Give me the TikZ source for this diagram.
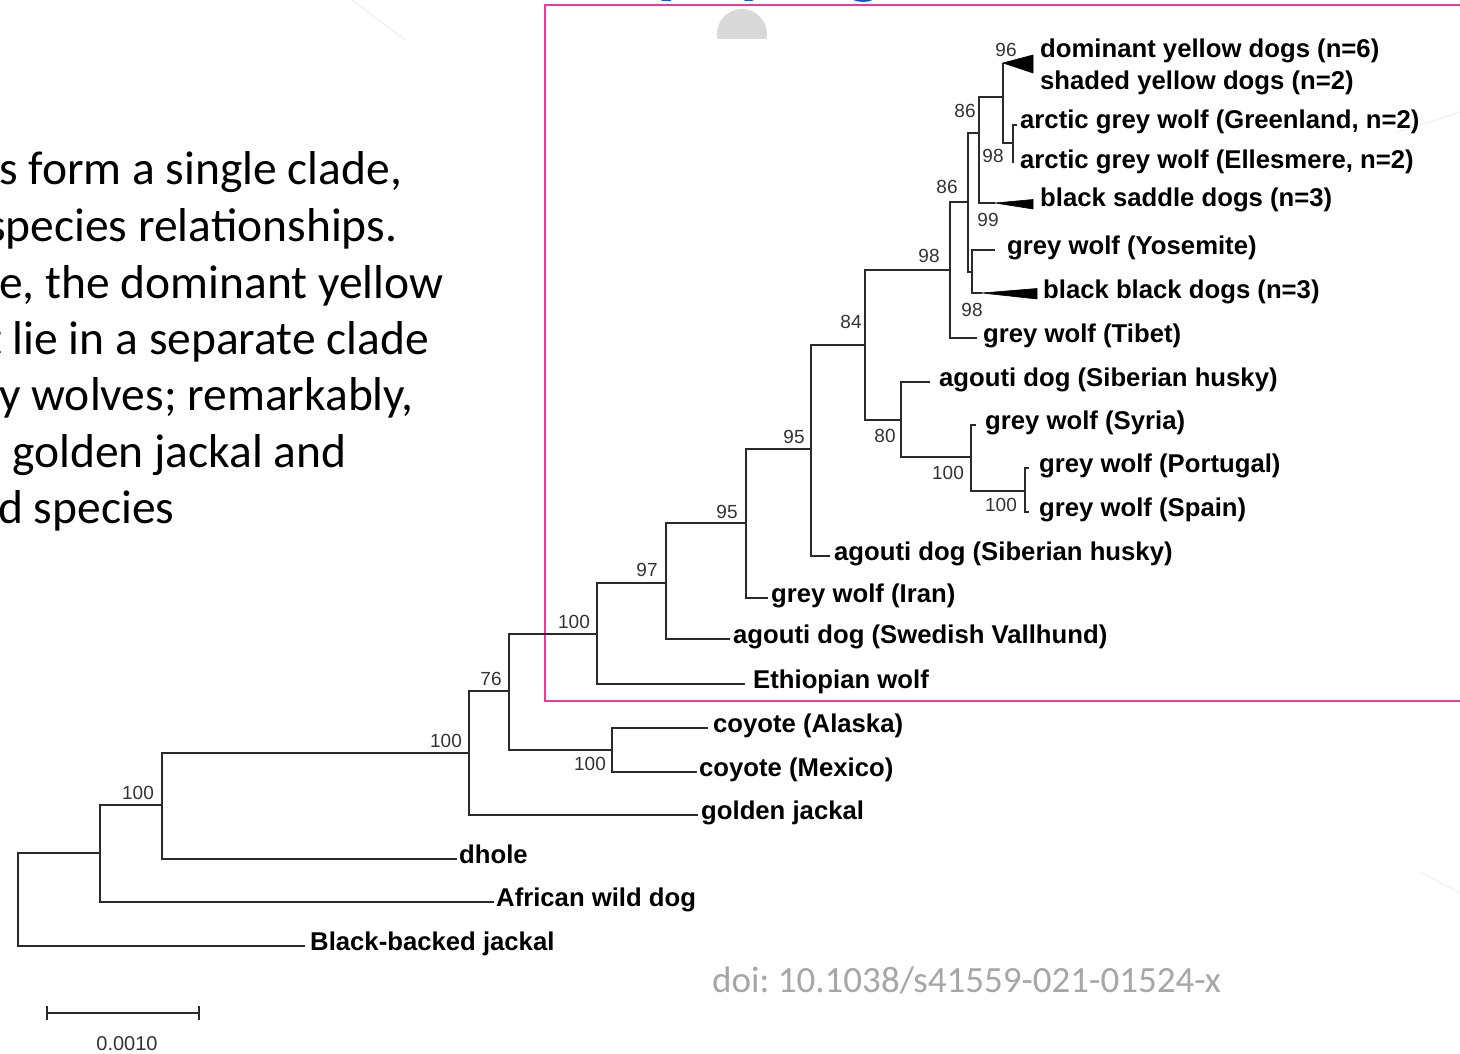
\documentclass[tikz,border=0pt]{standalone}
\usepackage{fontspec}
\setmainfont{Liberation Sans}
\newfontfamily\slidefam{Carlito}
\frenchspacing
\definecolor{treecol}{HTML}{2A2A2A}
\definecolor{bscol}{HTML}{333333}
\definecolor{boxpink}{RGB}{233,60,152}
\definecolor{titleblue}{RGB}{25,80,180}
\definecolor{doigray}{HTML}{A6A6A6}
\definecolor{circgray}{HTML}{D9D9D9}
\definecolor{faint}{HTML}{EDEDED}
\newcommand\leaffont{\bfseries\fontsize{25.7}{30}\selectfont}
\newcommand\bsfont{\fontsize{19}{22}\selectfont}
\newcommand\slidetext{\slidefam\fontsize{47.5}{57}\selectfont}
\newcommand\titlefont{\slidefam\bfseries\fontsize{76}{80}\selectfont}
\tikzset{
  br/.style={line width=1.8pt, draw=treecol, line join=miter},
  leaf/.style={anchor=base west, inner sep=0pt, font=\leaffont, text=black},
  bs/.style={inner sep=0pt, font=\bsfont, text=bscol},
  wedge/.style={fill=black, draw=black, line width=0.6pt, line join=miter},
  slide/.style={anchor=base west, inner sep=0pt, font=\slidetext, text=black},
  titlefrag/.style={anchor=base west, inner sep=0pt, text=titleblue, font=\titlefont},
}
\begin{document}
\begin{tikzpicture}[x=1pt,y=-1pt]
\useasboundingbox (0,0) rectangle (1460,1054);
\clip (0,0) rectangle (1460,1054);
\fill[white] (0,0) rectangle (1460,1054);

% faint decorative lines
\draw[faint, line width=0.8pt] (352,0) -- (405,40);
\draw[faint, line width=0.8pt] (1395,133) -- (1460,112);
\draw[faint, line width=0.8pt] (1420,872) -- (1460,893);

% title fragments (clipped at the top edge)
\node[titlefrag] (tp) at (657,-10) {p};
\node[titlefrag] (ty) at (737,-10) {y};
\node[titlefrag] (tg) at (846,-10) {g};

% grey half disc
\begin{scope}
  \clip (700,0) rectangle (790,39);
  \fill[circgray] (742,34) circle (25pt);
\end{scope}

% slide text (left, clipped)
\node[slide] (s1) at (-1,185) {s form a single clade,};
\node[slide] (s2) at (-13,241) {species relationships.};
\node[slide] (s3) at (-1,298) {e, the dominant yellow};
\node[slide] (s4) at (-14,354) {t lie in a separate clade};
\node[slide] (s5) at (-1,410) {y wolves; remarkably,};
\node[slide] (s6) at (12,467) {golden jackal and};
\node[slide] (s7) at (-2,523) {d species};

% pink frame
\draw[boxpink, line width=2.8pt] (545,5) rectangle (1470,701);

% ---- tree: internal nodes (x, stem y)
\coordinate (root) at (18,900);
\coordinate (nS) at (100,853);
\coordinate (nR) at (162,805);
\coordinate (nQ) at (469,753);
\coordinate (nO) at (509,691);
\coordinate (nP) at (612,750);
\coordinate (nN) at (597,634);
\coordinate (nM) at (666,583);
\coordinate (nL) at (746,523);
\coordinate (nK) at (811,449);
\coordinate (nG) at (865,345);
\coordinate (nH) at (901,420);
\coordinate (nI) at (971,457);
\coordinate (nJ) at (1025,491);
\coordinate (nF) at (950,270);
\coordinate (nD) at (968,202);
\coordinate (nE) at (972,272);
\coordinate (nC) at (979,133);
\coordinate (nA) at (1003,97);
\coordinate (nB) at (1013,143);
% tips
\coordinate (tDom) at (1003,63);
\coordinate (tGr) at (1017,125);
\coordinate (tEl) at (1013,163);
\coordinate (tSad) at (995,203);
\coordinate (tYo) at (995,250);
\coordinate (tBl) at (982,293);
\coordinate (tTi) at (977,338);
\coordinate (tAg1) at (930,382);
\coordinate (tSy) at (976,425);
\coordinate (tPo) at (1029,468);
\coordinate (tSp) at (1029,512);
\coordinate (tAg2) at (830,556);
\coordinate (tIr) at (768,598);
\coordinate (tSw) at (730,639);
\coordinate (tEt) at (745,684);
\coordinate (tAl) at (708,728);
\coordinate (tMe) at (697,772);
\coordinate (tGo) at (698,815);
\coordinate (tDh) at (457,859);
\coordinate (tAf) at (494,902);
\coordinate (tBB) at (305,946);

% branches (parent |- child)
\draw[br] (root) |- (nS);  \draw[br] (root) |- (tBB);
\draw[br] (nS) |- (nR);    \draw[br] (nS) |- (tAf);
\draw[br] (nR) |- (nQ);    \draw[br] (nR) |- (tDh);
\draw[br] (nQ) |- (nO);    \draw[br] (nQ) |- (tGo);
\draw[br] (nO) |- (nN);    \draw[br] (nO) |- (nP);
\draw[br] (nP) |- (tAl);   \draw[br] (nP) |- (tMe);
\draw[br] (nN) |- (nM);    \draw[br] (nN) |- (tEt);
\draw[br] (nM) |- (nL);    \draw[br] (nM) |- (tSw);
\draw[br] (nL) |- (nK);    \draw[br] (nL) |- (tIr);
\draw[br] (nK) |- (nG);    \draw[br] (nK) |- (tAg2);
\draw[br] (nG) |- (nF);    \draw[br] (nG) |- (nH);
\draw[br] (nH) |- (tAg1);  \draw[br] (nH) |- (nI);
\draw[br] (nI) |- (tSy);   \draw[br] (nI) |- (nJ);
\draw[br] (nJ) |- (tPo);   \draw[br] (nJ) |- (tSp);
\draw[br] (nF) |- (nD);    \draw[br] (nF) |- (tTi);
\draw[br] (nD) |- (nC);    \draw[br] (nD) |- (nE);
\draw[br] (nE) |- (tYo);   \draw[br] (nE) |- (tBl);
\draw[br] (nC) |- (nA);    \draw[br] (nC) |- (tSad);
\draw[br] (nA) |- (tDom);  \draw[br] (nA) |- (nB);
\draw[br] (nB) |- (tGr);   \draw[br] (nB) |- (tEl);

% collapsed clades (wedges)
\fill[wedge] (tDom) -- (1033,55) -- (1033,73) -- cycle;
\fill[wedge] (tSad) -- (1033,199.5) -- (1033,209) -- cycle;
\fill[wedge] (tBl) -- (1037,288.5) -- (1037,299) -- cycle;

% leaf labels
\node[leaf] (lDom) at (1040,58) {dominant yellow dogs (n=6)};
\node[leaf] (lSha) at (1040,90) {shaded yellow dogs (n=2)};
\node[leaf] (lGr) at (1020,129) {arctic grey wolf (Greenland, n=2)};
\node[leaf] (lEl) at (1020,169) {arctic grey wolf (Ellesmere, n=2)};
\node[leaf] (lSad) at (1040,207) {black saddle dogs (n=3)};
\node[leaf] (lYo) at (1007,254) {grey wolf (Yosemite)};
\node[leaf] (lBl) at (1043,298) {black black dogs (n=3)};
\node[leaf] (lTi) at (983,342) {grey wolf (Tibet)};
\node[leaf] (lAg1) at (939,386) {agouti dog (Siberian husky)};
\node[leaf] (lSy) at (985,429) {grey wolf (Syria)};
\node[leaf] (lPo) at (1039,472) {grey wolf (Portugal)};
\node[leaf] (lSp) at (1039,516) {grey wolf (Spain)};
\node[leaf] (lAg2) at (834,560) {agouti dog (Siberian husky)};
\node[leaf] (lIr) at (771,602) {grey wolf (Iran)};
\node[leaf] (lSw) at (733,643) {agouti dog (Swedish Vallhund)};
\node[leaf] (lEt) at (753,688) {Ethiopian wolf};
\node[leaf] (lAl) at (713,732) {coyote (Alaska)};
\node[leaf] (lMe) at (699,776) {coyote (Mexico)};
\node[leaf] (lGo) at (701,819) {golden jackal};
\node[leaf] (lDh) at (459,863) {dhole};
\node[leaf] (lAf) at (496,906) {African wild dog};
\node[leaf] (lBB) at (310,950) {Black-backed jackal};

% bootstrap values
\node[bs] (b96) at (1006,50) {96};
\node[bs] (b86a) at (965,111) {86};
\node[bs] (b98a) at (993,156) {98};
\node[bs] (b86b) at (947,187) {86};
\node[bs] (b99) at (988,220) {99};
\node[bs] (b98b) at (929,256) {98};
\node[bs] (b98c) at (972,310) {98};
\node[bs] (b84) at (851,322) {84};
\node[bs] (b80) at (885,436) {80};
\node[bs] (b100a) at (948,473) {100};
\node[bs] (b100b) at (1001,505) {100};
\node[bs] (b95a) at (794,437) {95};
\node[bs] (b95b) at (727,512) {95};
\node[bs] (b97) at (647,570) {97};
\node[bs] (b100c) at (574,622) {100};
\node[bs] (b76) at (491,679) {76};
\node[bs] (b100d) at (590,764) {100};
\node[bs] (b100e) at (446,741) {100};
\node[bs] (b100f) at (138,793) {100};

% scale bar
\coordinate (sbL) at (47,1013);
\coordinate (sbR) at (199,1013);
\draw[br] (sbL) -- (sbR);
\draw[br] (47,1006) -- (47,1020);
\draw[br] (199,1006) -- (199,1020);
\node[inner sep=0pt, font=\fontsize{20}{22}\selectfont, text=bscol] (sblab) at (127,1044) {0.0010};

% citation
\node[anchor=base west, inner sep=0pt, text=doigray, font=\slidefam\fontsize{37}{40}\selectfont] (doi) at (712,992) {doi: 10.1038/s41559-021-01524-x};
\end{tikzpicture}
\end{document}
